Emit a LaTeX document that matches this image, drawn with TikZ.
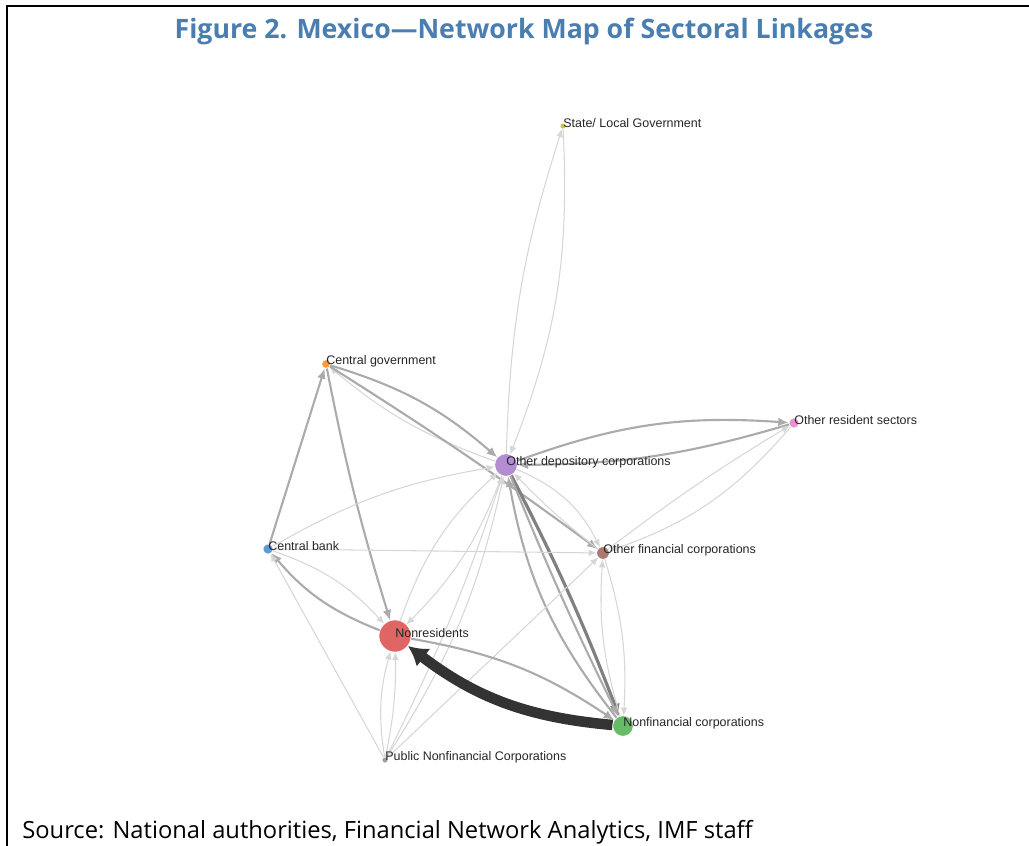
\documentclass[tikz,border=0pt]{standalone}
\usepackage{fontspec}
\setmainfont{Liberation Sans}
\newfontfamily\headfont{Open Sans}
\usetikzlibrary{arrows.meta}
\pgfdeclarelayer{links}
\pgfsetlayers{links,main}
\definecolor{headblue}{HTML}{4A7EB0}
\definecolor{slgcol}{HTML}{C9C93E}
\definecolor{cgcol}{HTML}{FF9A3C}
\definecolor{orscol}{HTML}{E991D0}
\definecolor{odccol}{HTML}{B28DD2}
\definecolor{cbcol}{HTML}{5C9BD3}
\definecolor{ofccol}{HTML}{A97A70}
\definecolor{nrcol}{HTML}{E06666}
\definecolor{nfccol}{HTML}{67BB67}
\definecolor{pnfccol}{HTML}{A0A0A0}
\tikzset{
  sector/.style={circle,inner sep=0pt,draw=white,line width=0.3pt},
  lbl/.style={anchor=west,inner sep=0pt,yshift=1.5pt,font=\fontsize{7.1}{8}\selectfont,text=black!85},
  faint/.style={draw=black!16,line width=0.6pt,-{Latex[length=4.5pt,width=4pt]}},
  mid/.style={draw=black!33,line width=1.2pt,-{Latex[length=6pt,width=5pt]}},
  strong/.style={draw=black!42,line width=1.8pt,-{Latex[length=7pt,width=6pt]}},
  heavy/.style={draw=black!80,line width=6pt,-{Latex[length=11pt,width=13pt]}},
}

\begin{document}
\begin{tikzpicture}[x=0.02cm,y=-0.02cm]
  \useasboundingbox (0,0) rectangle (1029,846);
  \draw[line width=1.3pt] (7,846) -- (7,6) -- (1029,6);
  \node[font=\headfont\bfseries\fontsize{15.2}{17}\selectfont,text=headblue] (head) at (524,31)
    {Figure 2. Mexico—Network Map of Sectoral Linkages};
  \node[font=\headfont\fontsize{13.5}{15}\selectfont,anchor=base west,inner sep=0pt] (src) at (22,838)
    {Source: National authorities, Financial Network Analytics, IMF staff};

  % sectors
  \node[sector,fill=slgcol,minimum size=0.12cm] (slg) at (563,126) {};
  \node[sector,fill=cgcol,minimum size=0.17cm] (cg) at (326,364) {};
  \node[sector,fill=orscol,minimum size=0.2cm] (ors) at (794,423) {};
  \node[sector,fill=odccol,minimum size=0.45cm] (odc) at (506,465) {};
  \node[sector,fill=cbcol,minimum size=0.2cm] (cb) at (268,549) {};
  \node[sector,fill=ofccol,minimum size=0.25cm] (ofc) at (603,553) {};
  \node[sector,fill=nrcol,minimum size=0.64cm] (nr) at (395,636) {};
  \node[sector,fill=nfccol,minimum size=0.41cm] (nfc) at (623,726) {};
  \node[sector,fill=pnfccol,minimum size=0.12cm] (pnfc) at (385,760) {};

  \node[lbl] (slgL) at (slg.center) {State/ Local Government};
  \node[lbl] (cgL) at (cg.center) {Central government};
  \node[lbl] (orsL) at (ors.center) {Other resident sectors};
  \node[lbl] (odcL) at (odc.center) {Other depository corporations};
  \node[lbl] (cbL) at (cb.center) {Central bank};
  \node[lbl] (ofcL) at (ofc.center) {Other financial corporations};
  \node[lbl] (nrL) at (nr.center) {Nonresidents};
  \node[lbl] (nfcL) at (nfc.center) {Nonfinancial corporations};
  \node[lbl] (pnfcL) at (pnfc.center) {Public Nonfinancial Corporations};

  % linkages
  \begin{pgfonlayer}{links}
    \draw[faint] (odc) to[bend left=8] (slg);
    \draw[faint] (slg) to[bend left=12] (odc);
    \draw[mid] (cg) to[bend left=12] (odc);
    \draw[faint] (odc) to[bend left=10] (cg);
    \draw[mid] (cg) to[bend left=2] (ofc);
    \draw[mid] (cg) to[bend right=3] (nr);
    \draw[mid] (cb) -- (cg);
    \draw[mid] (odc) to[bend left=12] (ors);
    \draw[mid] (ors) to[bend left=8] (odc);
    \draw[faint] (ofc) to[bend left=3] (ors);
    \draw[faint] (ors) to[bend left=15] (ofc);
    \draw[faint] (odc) to[bend left=20] (ofc);
    \draw[faint] (ofc) to[bend left=4] (odc);
    \draw[strong,draw=black!50] (odc) to[bend left=3] (nfc);
    \draw[mid] (odc) to[bend right=2] (nfc);
    \draw[mid] (nfc) to[bend left=14] (odc);
    \draw[faint] (odc) to[bend left=12] (nr);
    \draw[faint] (nr) to[bend left=14] (odc);
    \draw[faint] (cb) to[bend left=10] (odc);
    \draw[faint] (cb) -- (ofc);
    \draw[mid] (nr) to[bend left=14] (cb);
    \draw[faint] (cb) to[bend left=14] (nr);
    \draw[faint] (pnfc) -- (cb);
    \draw[faint] (pnfc) to[bend left=12] (nr);
    \draw[faint] (pnfc) to[bend right=6] (nr);
    \draw[faint] (pnfc) to[bend right=4] (odc);
    \draw[faint] (pnfc) to[bend right=10] (odc);
    \draw[faint] (pnfc) -- (ofc);
    \draw[faint] (nfc) to[bend left=10] (ofc);
    \draw[faint] (ofc) to[bend left=10] (nfc);
    \draw[mid] (nr) to[bend left=12] (nfc);
    \draw[heavy] (nfc) to[bend left=16] (nr);
  \end{pgfonlayer}
\end{tikzpicture}
\end{document}
